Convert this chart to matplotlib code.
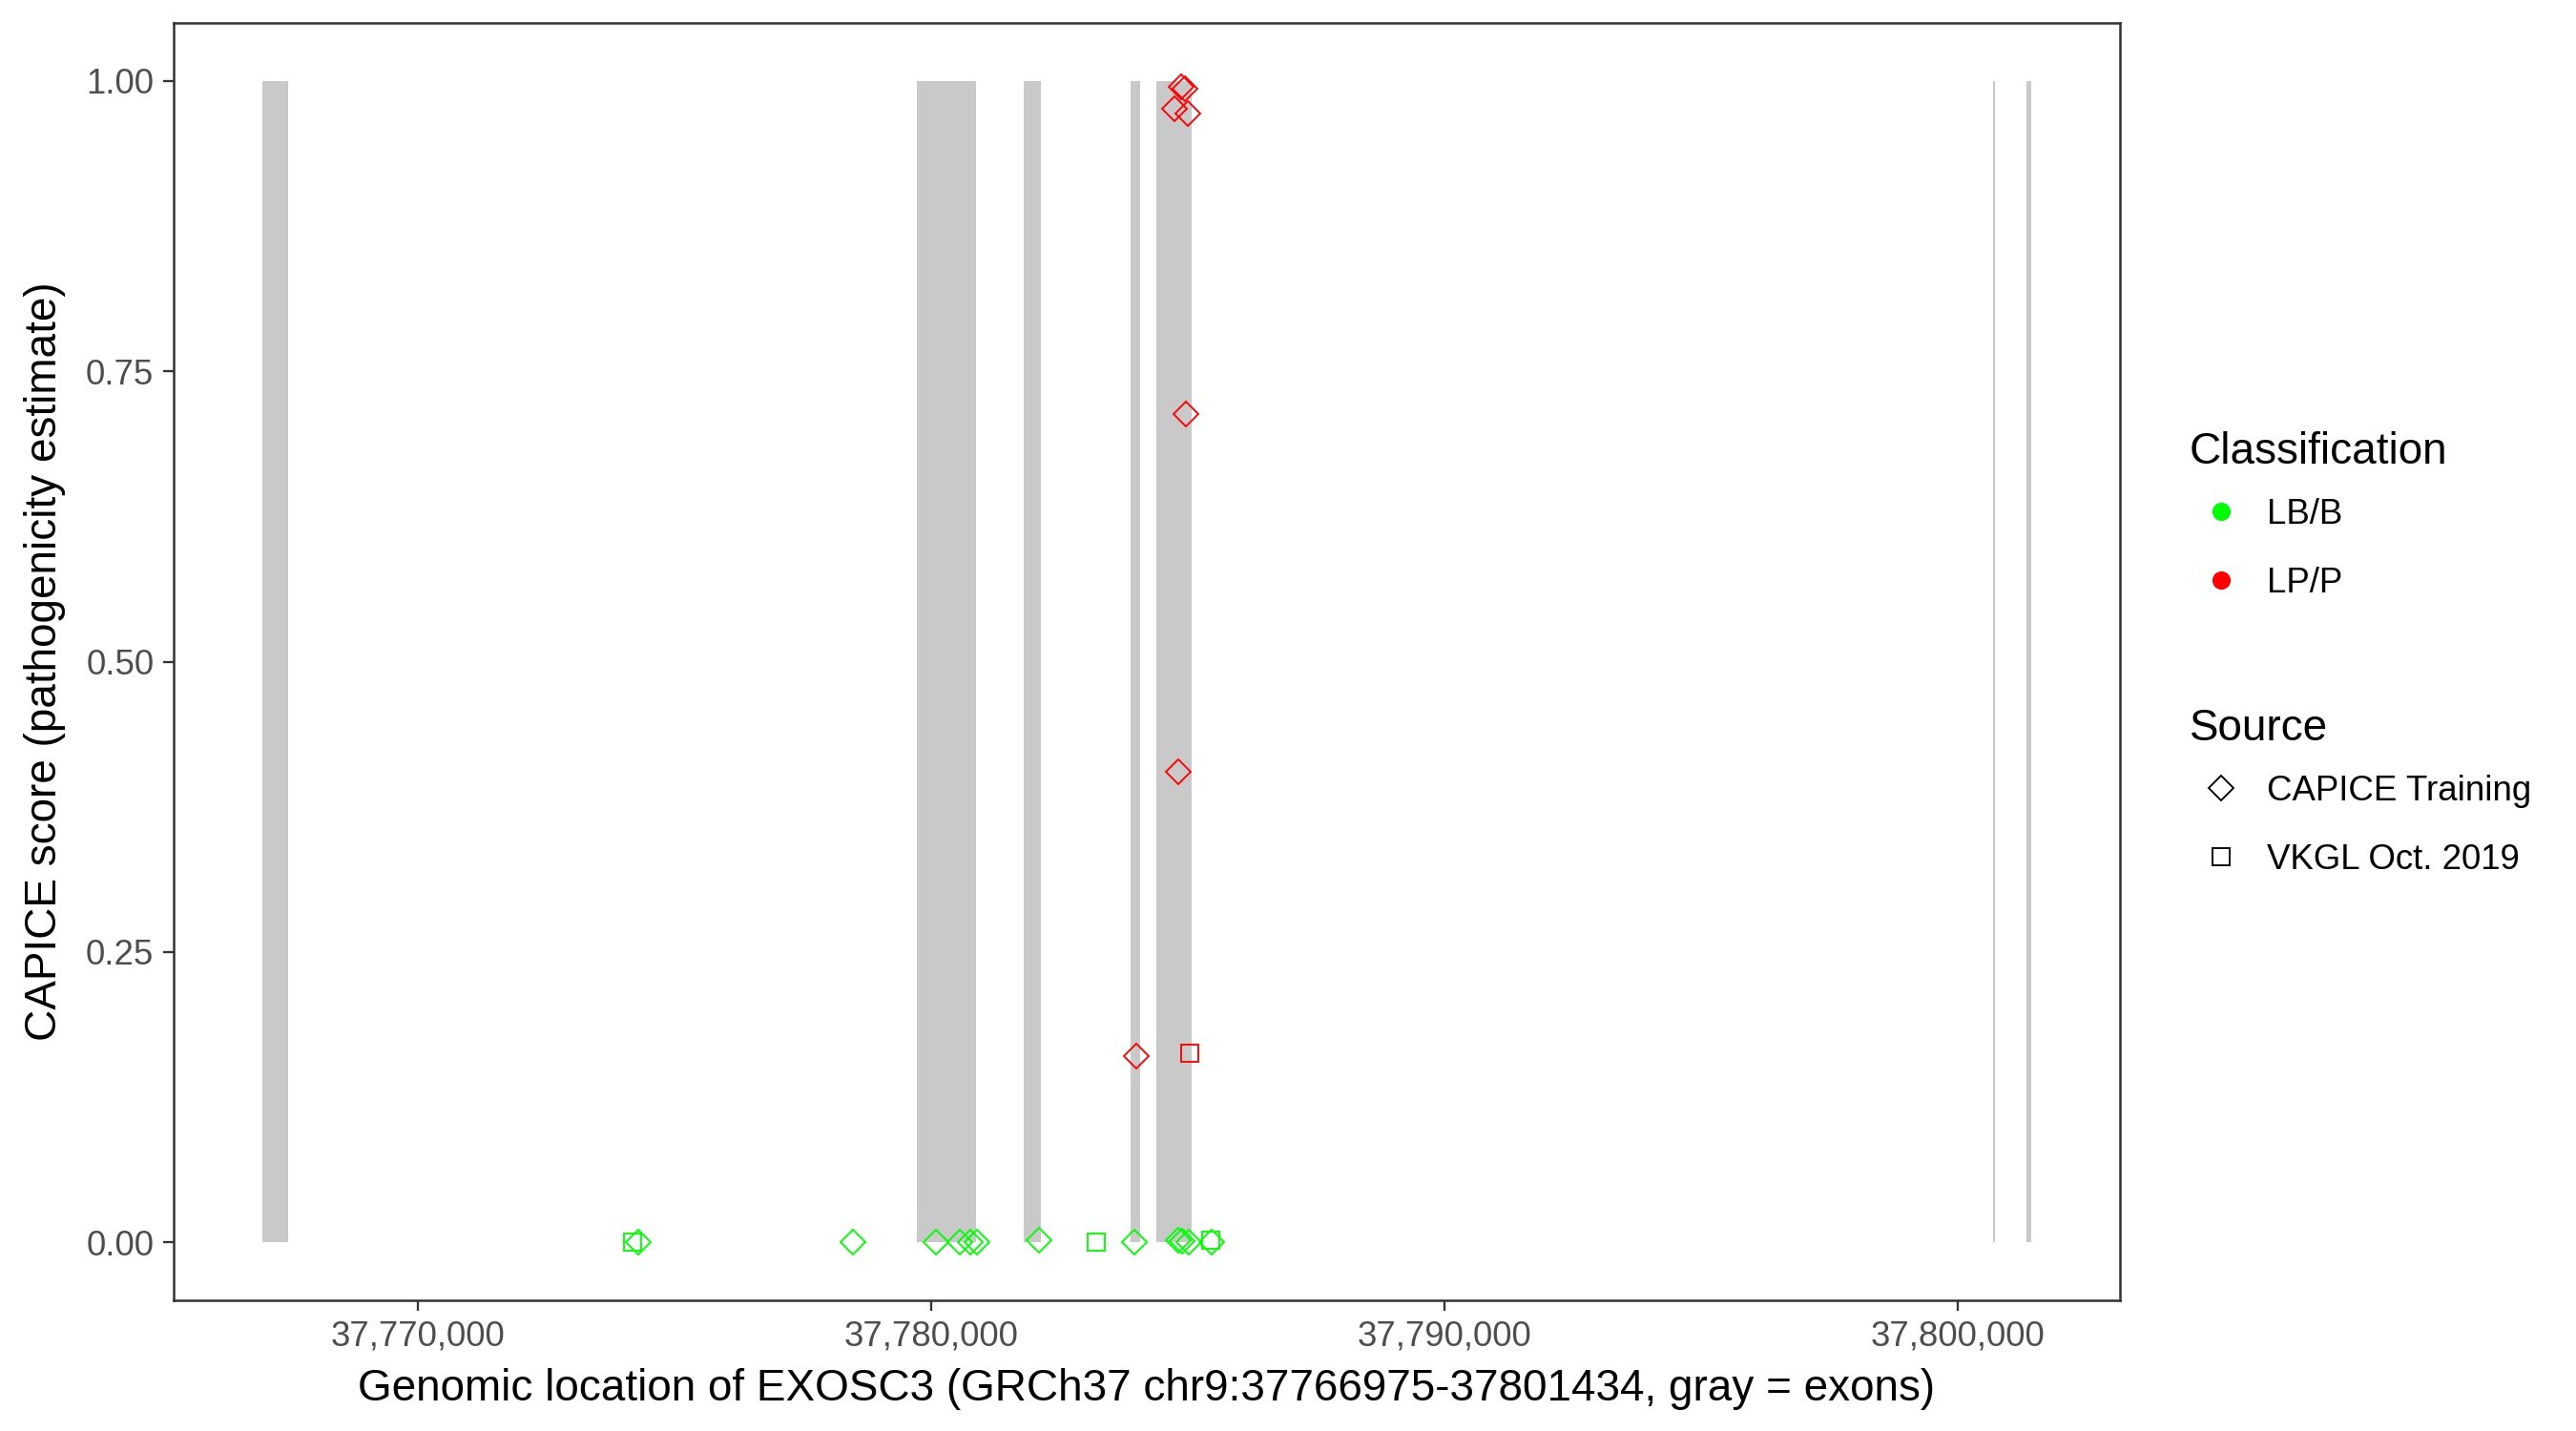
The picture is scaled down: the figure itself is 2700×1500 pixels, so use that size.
import numpy as np
import matplotlib
matplotlib.use('Agg')
import matplotlib.pyplot as plt
from matplotlib.lines import Line2D
from matplotlib.ticker import FuncFormatter, FixedLocator

plt.rcParams['font.family'] = ['Liberation Sans', 'DejaVu Sans']

# gene region and exons (GRCh37 chr9)
gene_start = 37766975
gene_end = 37801434
exon_starts = [37766975, 37779721, 37781800, 37783885, 37784387, 37800688, 37801340]
exon_ends = [37767490, 37780874, 37782140, 37784065, 37785069, 37800725, 37801434]

# LP/P variants
red_diamond_pos = [37784876, 37784939, 37784740, 37785000, 37784957, 37784814, 37783996]
red_diamond_score = [0.995, 0.993, 0.976, 0.972, 0.713, 0.405, 0.160]
red_square_pos = [37785043]
red_square_score = [0.163]

# LB/B variants
green_diamond_pos = [37774294, 37778483, 37780106, 37780569, 37780758, 37780888,
                     37782110, 37783960, 37784825, 37784885, 37785026, 37785460]
green_diamond_score = [0, 0, 0, 0, 0, 0, 0.002, 0, 0.002, 0.001, 0, 0]
green_square_pos = [37774180, 37783212, 37785450]
green_square_score = [0, 0, 0.002]

x_ticks = [37770000, 37780000, 37790000, 37800000]
y_ticks = [0.00, 0.25, 0.50, 0.75, 1.00]

green = '#00FF00'
red = '#FF0000'
exon_gray = '#C9C9C9'
border = '#333333'

fig = plt.figure(figsize=(9, 5), dpi=300)
ax = fig.add_axes([0.0674, 0.0913, 0.823 - 0.0674, 0.984 - 0.0913])

# exons as gray bars from 0 to 1
widths = np.array(exon_ends) - np.array(exon_starts)
ax.bar(exon_starts, [1] * len(exon_starts), width=widths, bottom=0, align='edge',
       color=exon_gray, linewidth=0, zorder=1)

ms = 4.4
mew = 0.45
ax.plot(green_diamond_pos, green_diamond_score, linestyle='none', marker='D', ms=ms,
        mfc='none', mec=green, mew=mew, zorder=3)
ax.plot(green_square_pos, green_square_score, linestyle='none', marker='s', ms=ms,
        mfc='none', mec=green, mew=mew, zorder=3)
ax.plot(red_diamond_pos, red_diamond_score, linestyle='none', marker='D', ms=ms,
        mfc='none', mec=red, mew=mew, zorder=3)
ax.plot(red_square_pos, red_square_score, linestyle='none', marker='s', ms=ms,
        mfc='none', mec=red, mew=mew, zorder=3)

span = gene_end - gene_start
ax.set_xlim(gene_start - 0.05 * span, gene_end + 0.05 * span)
ax.set_ylim(-0.05, 1.05)

ax.xaxis.set_major_locator(FixedLocator(x_ticks))
ax.xaxis.set_major_formatter(FuncFormatter(lambda v, p: f"{int(v):,}"))
ax.yaxis.set_major_locator(FixedLocator(y_ticks))
ax.yaxis.set_major_formatter(FuncFormatter(lambda v, p: f"{v:.2f}"))

for s in ax.spines.values():
    s.set_color(border)
    s.set_linewidth(0.6)
ax.tick_params(axis='both', length=2.75, width=0.55, color=border,
               labelsize=8.8, labelcolor='#4D4D4D', pad=2.2)

ax.set_xlabel('Genomic location of EXOSC3 (GRCh37 chr9:37766975-37801434, gray = exons)',
              fontsize=11, labelpad=3.7)
ax.set_ylabel('CAPICE score (pathogenicity estimate)', fontsize=11, labelpad=5)

# legends
class_handles = [
    Line2D([], [], linestyle='none', marker='o', ms=4.6, mfc=green, mec=green, mew=0),
    Line2D([], [], linestyle='none', marker='o', ms=4.6, mfc=red, mec=red, mew=0),
]
src_handles = [
    Line2D([], [], linestyle='none', marker='D', ms=ms, mfc='none', mec='black', mew=mew),
    Line2D([], [], linestyle='none', marker='s', ms=ms, mfc='none', mec='black', mew=mew),
]
leg_kw = dict(frameon=False, fontsize=8.8, title_fontsize=11, alignment='left',
              borderpad=0, handlelength=1.8, handletextpad=0.4, labelspacing=1.0,
              borderaxespad=0)
leg1 = fig.legend(class_handles, ['LB/B', 'LP/P'], title='Classification',
                  loc='upper left', bbox_to_anchor=(2295 / 2700, 1 - 452 / 1500), **leg_kw)
leg2 = fig.legend(src_handles, ['CAPICE Training', 'VKGL Oct. 2019'], title='Source',
                  loc='upper left', bbox_to_anchor=(2295 / 2700, 1 - 742 / 1500), **leg_kw)
# tighten the gap between legend title and first key
for leg in (leg1, leg2):
    leg._legend_box.sep = 6.3

fig.savefig('out.png', dpi=300, facecolor='white')
